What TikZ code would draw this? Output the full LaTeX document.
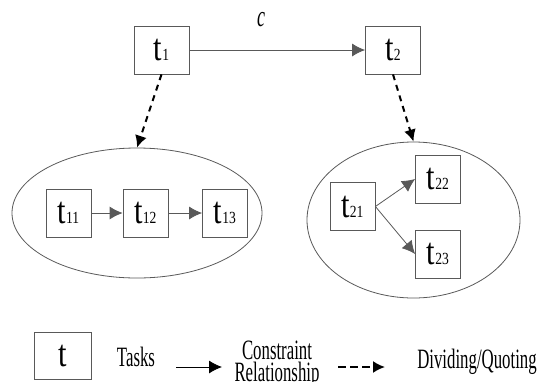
\documentclass[tikz,border=0pt]{standalone}
\usepackage{fontspec}
\setmainfont{Liberation Serif}
\newfontfamily\narrowfont{Liberation Serif}[FakeStretch=0.6]
\newfontfamily\boxfont{Liberation Serif}[FakeStretch=0.8]
\usetikzlibrary{arrows.meta, shapes.geometric}

\newcommand{\tsk}[1]{{\boxfont\fontsize{38}{38}\selectfont t}{\boxfont\fontsize{17}{17}\selectfont #1}}

\tikzset{
    task/.style={draw=black!65, line width=0.8pt, minimum width=45pt, minimum height=48pt, inner sep=0pt},
    group/.style={ellipse, draw=black!65, line width=0.8pt, inner sep=0pt},
    rel/.style={draw=black!65, line width=0.8pt, -{Latex[length=13pt, width=13pt]}},
    split/.style={line width=2pt, dash pattern=on 6pt off 5pt, -{Latex[length=12pt, width=12pt]}},
    legend/.style={font=\narrowfont\fontsize{28}{22}\selectfont, align=center, inner sep=0pt, anchor=base}
}

\begin{document}
\begin{tikzpicture}[x=1pt, y=-1pt]
    \useasboundingbox (0, 0) rectangle (538, 381);
    % groups
    \node[group, minimum width=250pt, minimum height=130pt] (g1) at (137, 213) {};
    \node[group, minimum width=213pt, minimum height=156pt] (g2) at (413.5, 220) {};
    % top tasks
    \node[task, minimum width=55pt] (t1) at (161.5, 50) {\tsk{1}};
    \node[task, minimum width=55pt] (t2) at (393, 50) {\tsk{2}};
    \node[font=\narrowfont\fontsize{30}{30}\selectfont\itshape] (c) at (261, 20) {c};
    \draw[rel] (t1) -- (t2);
    % subtasks
    \node[task] (t11) at (68.5, 213) {\tsk{11}};
    \node[task] (t12) at (145.5, 213) {\tsk{12}};
    \node[task] (t13) at (225, 213) {\tsk{13}};
    \node[task] (t21) at (352.5, 206.5) {\tsk{21}};
    \node[task] (t22) at (438, 179) {\tsk{22}};
    \node[task] (t23) at (438, 254) {\tsk{23}};
    \draw[rel] (t11) -- (t12);
    \draw[rel] (t12) -- (t13);
    \draw[rel] (t21.east) -- (t22.west);
    \draw[rel] (t21.east) -- (t23.west);
    \draw[split] (t1.south) -- (g1.north);
    \draw[split] (t2.south) -- (g2.north);
    % legend
    \node[task, minimum width=57pt, minimum height=47pt] (lt) at (63, 356) {{\boxfont\fontsize{38}{38}\selectfont t}};
    \node[legend] (ltask) at (136, 366.5) {Tasks};
    \coordinate (a1) at (176, 367);
    \coordinate (a2) at (222, 367);
    \draw[rel, draw=black] (a1) -- (a2);
    \node[legend] (lrel) at (277, 381) {Constraint\\Relationship};
    \coordinate (b1) at (338, 367);
    \coordinate (b2) at (385, 367);
    \draw[split, dash pattern=on 8pt off 4pt] (b1) -- (b2);
    \node[legend] (ldiv) at (477, 368) {Dividing/Quoting};
\end{tikzpicture}
\end{document}
